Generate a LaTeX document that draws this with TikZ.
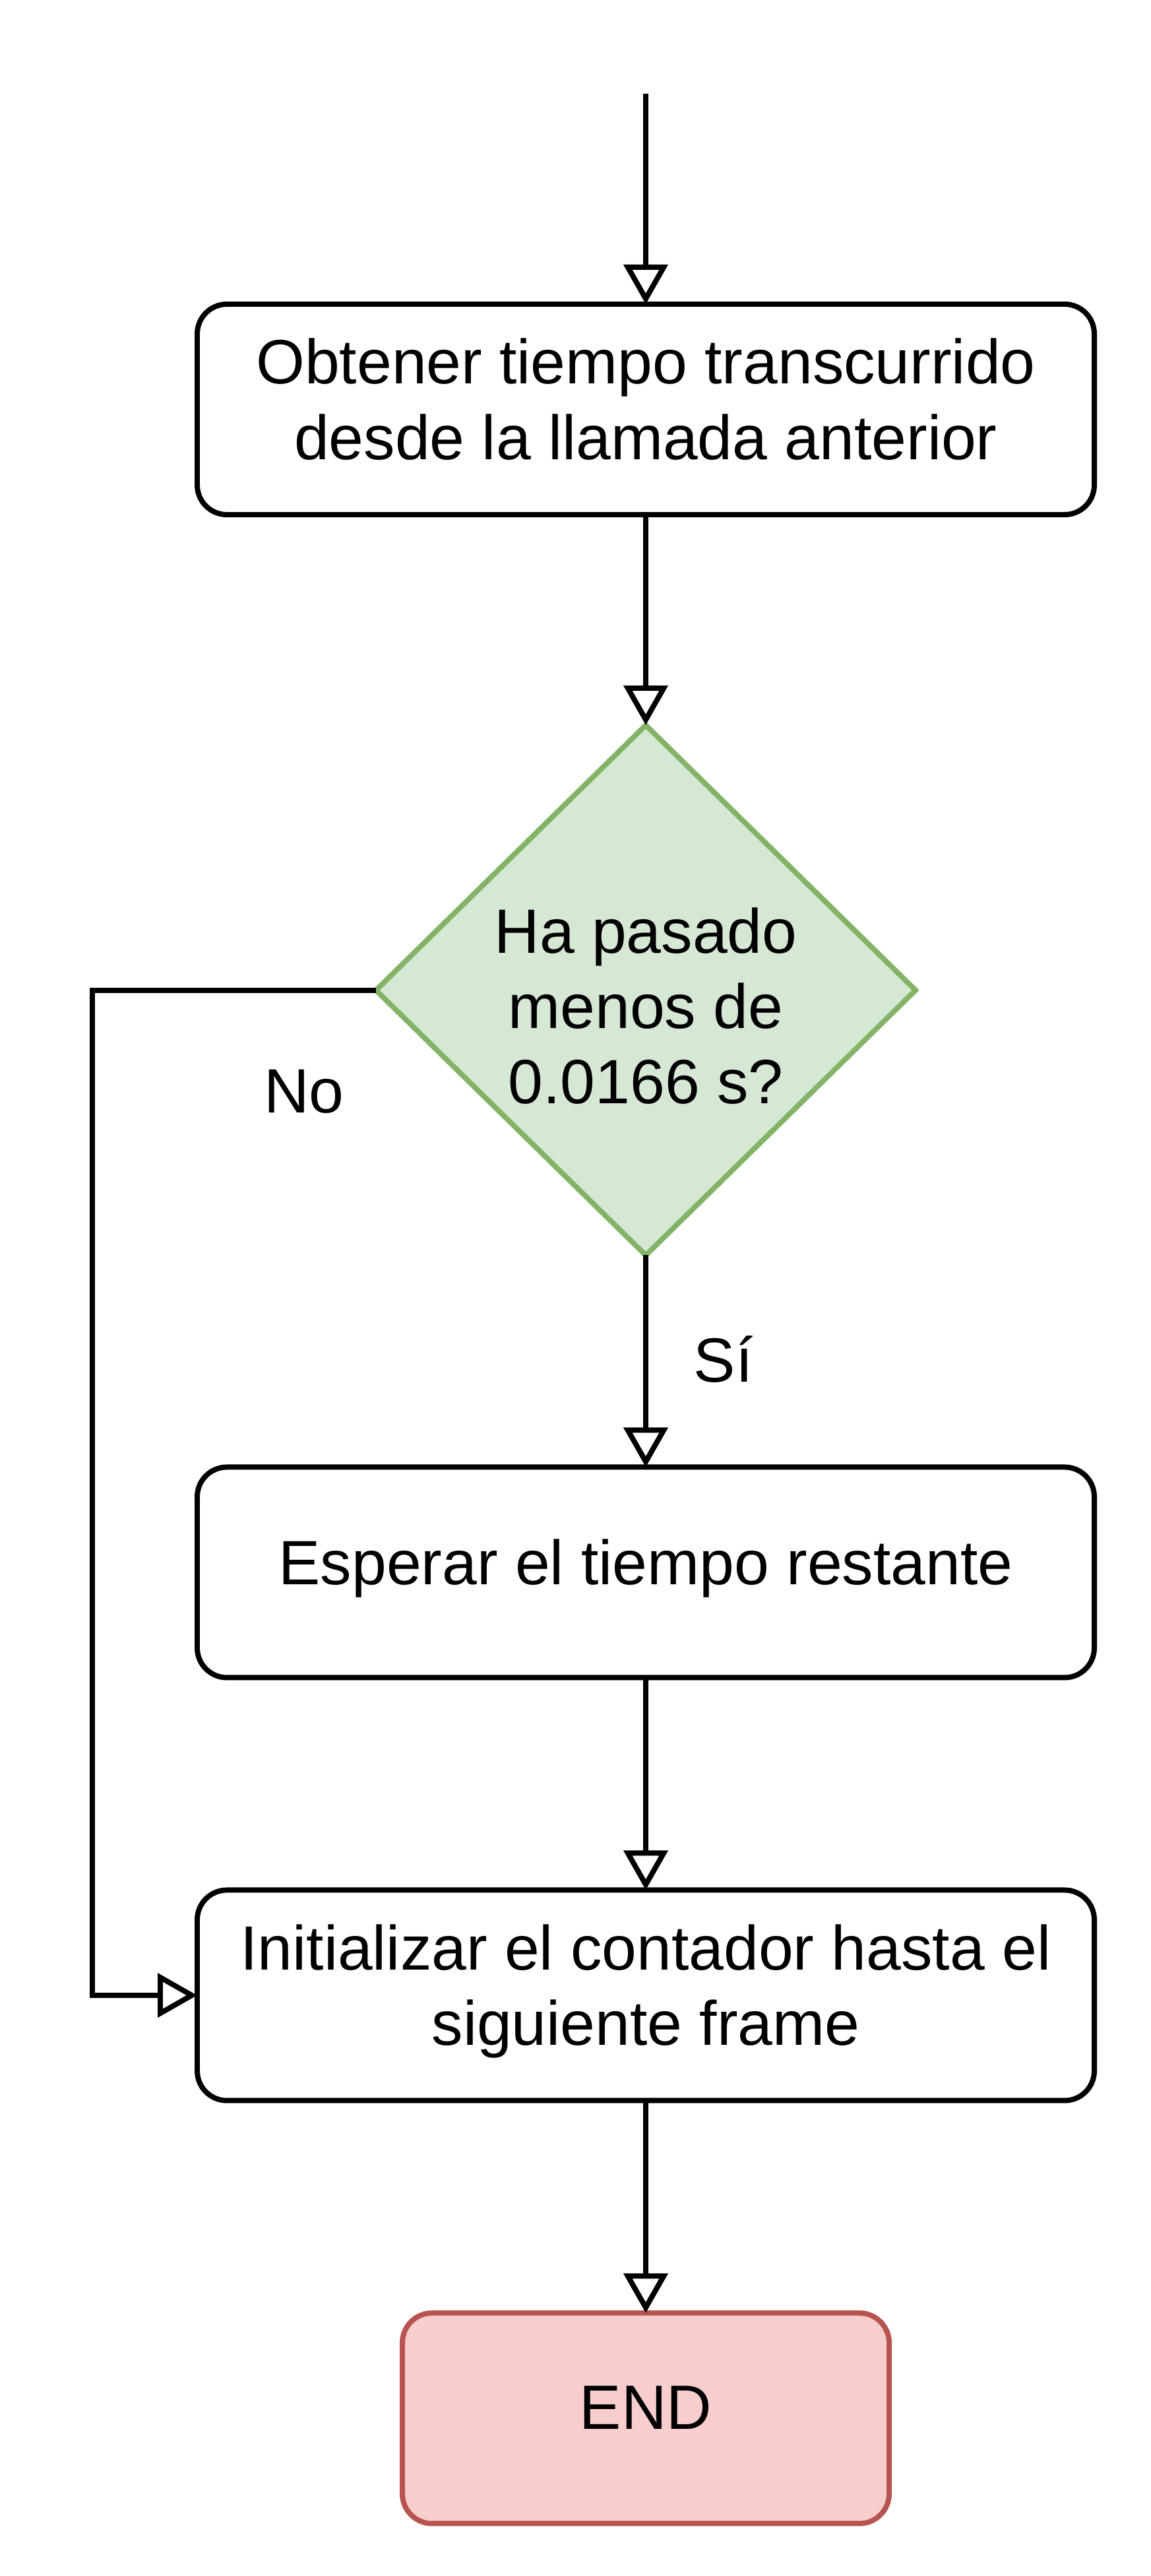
\documentclass[tikz,border=0pt]{standalone}
\usepackage{fontspec}
\setmainfont{Liberation Sans}
\usetikzlibrary{positioning,shapes.geometric,arrows.meta}
\definecolor{condfill}{HTML}{D5E8D4}
\definecolor{conddraw}{HTML}{82B366}
\definecolor{endfill}{HTML}{F8CECC}
\definecolor{enddraw}{HTML}{B85450}
\tikzset{
  procbox/.style={draw, line width=2.27pt, rounded corners=0.45cm, minimum width=13.6cm, minimum height=3.19cm, align=center, inner sep=0pt, outer sep=0pt, text depth=9pt},
  condbox/.style={draw=conddraw, fill=condfill, line width=2.27pt, diamond, minimum width=8.18cm, minimum height=8.02cm, align=center, inner sep=0pt, outer sep=0pt, text height=98pt, text depth=0pt},
  endbox/.style={draw=enddraw, fill=endfill, line width=2.27pt, rounded corners=0.45cm, minimum width=7.38cm, minimum height=3.19cm, align=center, inner sep=0pt, outer sep=0pt, text depth=9pt},
  flow/.style={draw, line width=2.27pt, -{Triangle[open, length=0.6cm, width=0.66cm]}},
  every node/.style={font=\fontsize{27}{32.5}\selectfont}
}
\begin{document}
\begin{tikzpicture}
  \useasboundingbox (0,0) rectangle (17.44,-39.04);
  \coordinate (start) at (9.79,-1.42);
  \node [procbox] (elapsed) at (9.79,-6.205) {Obtener tiempo transcurrido\\desde la llamada anterior};
  \node [condbox, below=3.19cm of elapsed] (check) {Ha pasado\\menos de\\0.0166 s?};
  \node [procbox, below=3.21cm of check] (wait) {Esperar el tiempo restante};
  \node [procbox, below=3.22cm of wait] (reset) {Initializar el contador hasta el\\siguiente frame};
  \node [endbox, below=3.22cm of reset] (finish) {END};
  \coordinate (noturn) at (1.40,-22);
  % connectors
  \draw [flow] (start) -- (elapsed);
  \draw [flow] (elapsed) -- (check);
  \draw [flow] (check) -- node [right=0.57cm, pos=0.49] (yes) {Sí} (wait);
  \draw [flow] (check.west) -| (noturn) |- (reset.west);
  \node (no) at (4.61,-16.54) {No};
  \draw [flow] (wait) -- (reset);
  \draw [flow] (reset) -- (finish);
\end{tikzpicture}
\end{document}
